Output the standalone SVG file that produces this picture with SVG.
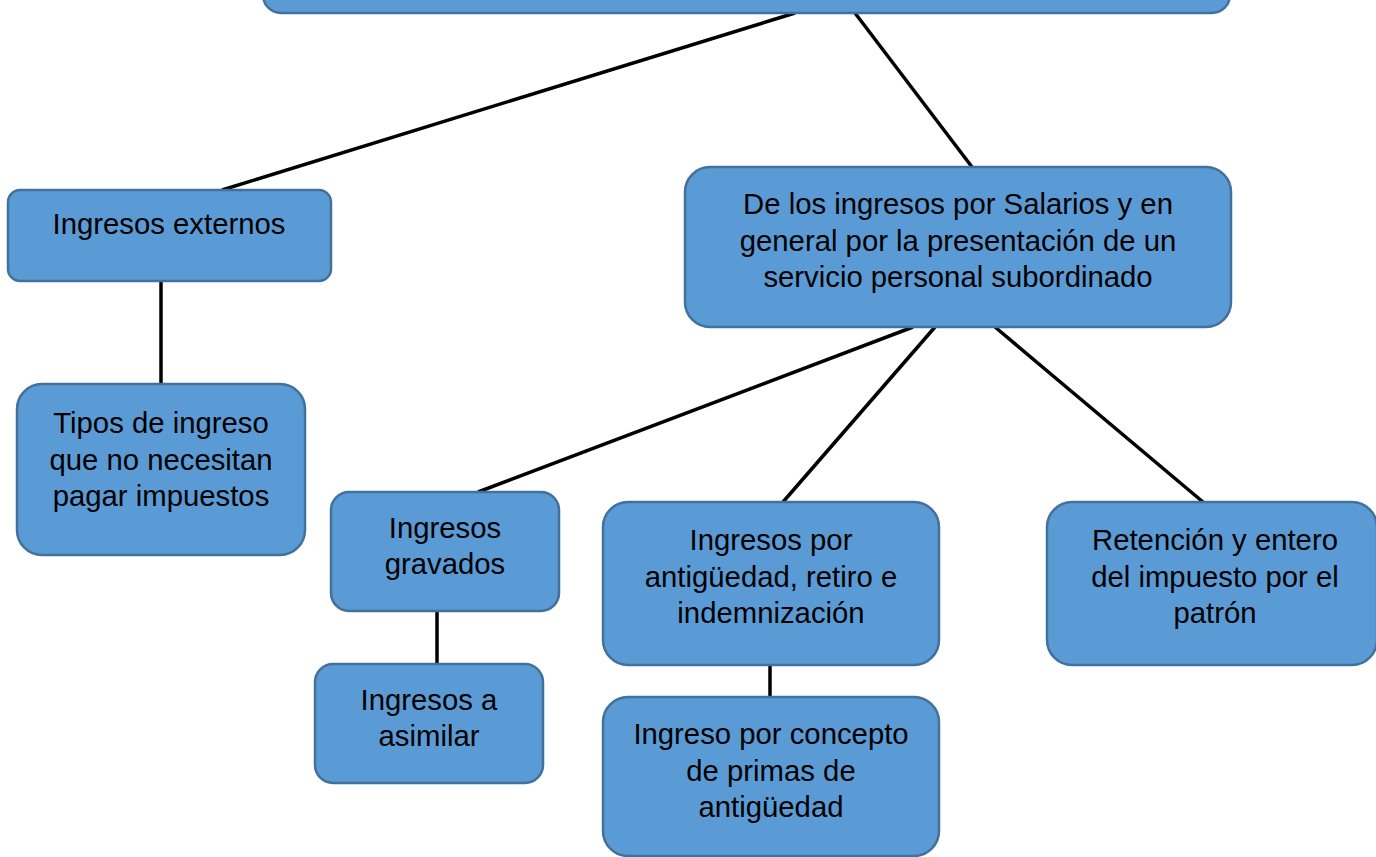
<svg xmlns="http://www.w3.org/2000/svg" width="1376" height="857" viewBox="0 0 1376 857">
<style>
.n{fill:#5B9BD5;stroke:#41719C;stroke-width:2.5}
.t{font-family:"Liberation Sans",Arial,sans-serif;font-size:29.3px;fill:#000;text-anchor:middle}
.c line{stroke:#000;stroke-width:3.5}
</style>
<rect width="1376" height="857" fill="#fff"/>
<g class="c" id="connectors">
<line x1="795" y1="13" x2="222" y2="190"/>
<line x1="855" y1="13" x2="972" y2="167"/>
<line x1="161" y1="281" x2="161" y2="384"/>
<line x1="913" y1="327" x2="478" y2="492"/>
<line x1="935" y1="327" x2="783" y2="502"/>
<line x1="995" y1="327" x2="1203" y2="502"/>
<line x1="437" y1="611" x2="437" y2="664"/>
<line x1="770" y1="665" x2="770" y2="697"/>
</g>
<g id="top"><rect class="n" x="263" y="-60" width="967" height="73" rx="18"/></g>
<g id="externos"><rect class="n" x="8" y="190" width="323" height="91" rx="12"/>
<text class="t" x="169" y="234">Ingresos externos</text></g>
<g id="salarios"><rect class="n" x="685" y="167" width="546" height="160" rx="25"/>
<text class="t" x="958" y="214">De los ingresos por Salarios y en</text>
<text class="t" x="958" y="251">general por la presentación de un</text>
<text class="t" x="958" y="287">servicio personal subordinado</text></g>
<g id="tipos"><rect class="n" x="17" y="384" width="288" height="171" rx="25"/>
<text class="t" x="161" y="433">Tipos de ingreso</text>
<text class="t" x="161" y="470">que no necesitan</text>
<text class="t" x="161" y="506">pagar impuestos</text></g>
<g id="gravados"><rect class="n" x="331" y="492" width="228" height="119" rx="18"/>
<text class="t" x="445" y="538">Ingresos</text>
<text class="t" x="445" y="574">gravados</text></g>
<g id="antiguedad"><rect class="n" x="603" y="502" width="336" height="163" rx="25"/>
<text class="t" x="771" y="550">Ingresos por</text>
<text class="t" x="771" y="587">antigüedad, retiro e</text>
<text class="t" x="771" y="623">indemnización</text></g>
<g id="retencion"><rect class="n" x="1047" y="502" width="330" height="163" rx="25"/>
<text class="t" x="1215" y="550">Retención y entero</text>
<text class="t" x="1215" y="587">del impuesto por el</text>
<text class="t" x="1215" y="623">patrón</text></g>
<g id="asimilar"><rect class="n" x="315" y="664" width="228" height="119" rx="18"/>
<text class="t" x="429" y="710">Ingresos a</text>
<text class="t" x="429" y="746">asimilar</text></g>
<g id="primas"><rect class="n" x="603" y="697" width="336" height="159" rx="25"/>
<text class="t" x="771" y="744">Ingreso por concepto</text>
<text class="t" x="771" y="781">de primas de</text>
<text class="t" x="771" y="817">antigüedad</text></g>
</svg>
